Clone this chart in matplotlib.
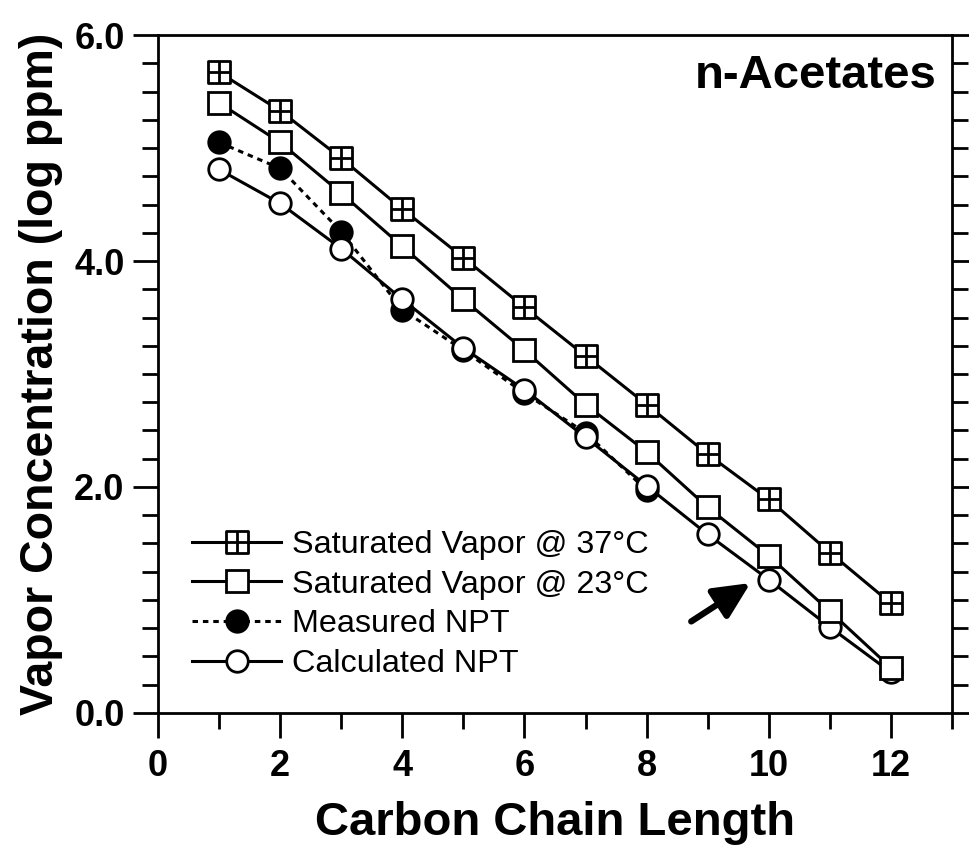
import numpy as np
import matplotlib
matplotlib.use("Agg")
import matplotlib.pyplot as plt
from matplotlib.path import Path
from matplotlib.ticker import MultipleLocator, FormatStrFormatter

plt.rcParams['font.family'] = ['Liberation Sans', 'DejaVu Sans']

# carbon chain length
carbons = [1, 2, 3, 4, 5, 6, 7, 8, 9, 10, 11, 12]
carbons_meas = [1, 2, 3, 4, 5, 6, 7, 8]

# log ppm values
sat_37 = [5.67, 5.33, 4.91, 4.46, 4.03, 3.59, 3.16, 2.73, 2.29, 1.89, 1.42, 0.97]
sat_23 = [5.40, 5.05, 4.60, 4.13, 3.66, 3.21, 2.73, 2.31, 1.82, 1.39, 0.90, 0.40]
measured = [5.05, 4.82, 4.26, 3.57, 3.21, 2.83, 2.48, 1.97]
calculated = [4.81, 4.51, 4.11, 3.66, 3.23, 2.86, 2.44, 2.01, 1.58, 1.18, 0.76, 0.36]

labels = ["Saturated Vapor @ 37\u00b0C", "Saturated Vapor @ 23\u00b0C",
          "Measured NPT", "Calculated NPT"]

# square with a cross inside
box_cross = Path(
    [(-1, -1), (1, -1), (1, 1), (-1, 1), (-1, -1), (0, -1), (0, 1), (-1, 0), (1, 0)],
    [Path.MOVETO, Path.LINETO, Path.LINETO, Path.LINETO, Path.CLOSEPOLY,
     Path.MOVETO, Path.LINETO, Path.MOVETO, Path.LINETO])


def main():
    fig = plt.figure(figsize=(9.69, 8.5), dpi=100)
    ax = fig.add_axes([0.163, 0.1612, 0.8195, 0.7976])

    lw = 2.2
    ms = 15.5
    mew = 2.0
    common = dict(color='k', lw=lw, ms=ms, mew=mew, mec='k')

    l3, = ax.plot(carbons_meas, measured, ls=(0, (1.8, 1.6)), marker='o', mfc='k', **common)
    l4, = ax.plot(carbons, calculated, ls='-', marker='o', mfc='w', **common)
    l2, = ax.plot(carbons, sat_23, ls='-', marker='s', mfc='w', **common)
    l1, = ax.plot(carbons, sat_37, ls='-', marker=box_cross, mfc='w', **common)

    ax.set_xlim(0, 13)
    ax.set_ylim(0, 6)
    ax.xaxis.set_major_locator(MultipleLocator(2))
    ax.xaxis.set_minor_locator(MultipleLocator(1))
    ax.yaxis.set_major_locator(MultipleLocator(2))
    ax.yaxis.set_minor_locator(MultipleLocator(0.25))
    ax.yaxis.set_major_formatter(FormatStrFormatter('%.1f'))

    for s in ax.spines.values():
        s.set_linewidth(2.0)

    ax.tick_params(which='both', direction='out', width=2.0, top=False, right=True)
    ax.tick_params(which='major', length=18, labelsize=26, pad=6)
    ax.tick_params(which='minor', length=11.5)
    ax.tick_params(axis='x', which='major', pad=8)
    for t in ax.get_xticklabels() + ax.get_yticklabels():
        t.set_fontweight('bold')

    ax.set_xlabel("Carbon Chain Length", fontsize=34, fontweight='bold', labelpad=12)
    ax.set_ylabel("Vapor Concentration (log ppm)", fontsize=33.5, fontweight='bold', labelpad=8)

    ax.text(0.98, 0.94, "n-Acetates", transform=ax.transAxes, ha='right', va='center',
            fontsize=34, fontweight='bold')

    ax.annotate("", xy=(9.7, 1.15), xytext=(8.73, 0.81),
                arrowprops=dict(arrowstyle='-|>,head_length=2.2,head_width=1.05',
                                color='k', lw=4.5, shrinkA=0, shrinkB=0,
                                capstyle='round'))

    ax.legend([l1, l2, l3, l4], labels, loc='lower left', bbox_to_anchor=(0.027, 0.031),
              frameon=False, fontsize=23.3, handlelength=2.75, handletextpad=0.32,
              labelspacing=0.3, borderaxespad=0)

    fig.savefig("out.png", dpi=100)


if __name__ == '__main__':
    main()
